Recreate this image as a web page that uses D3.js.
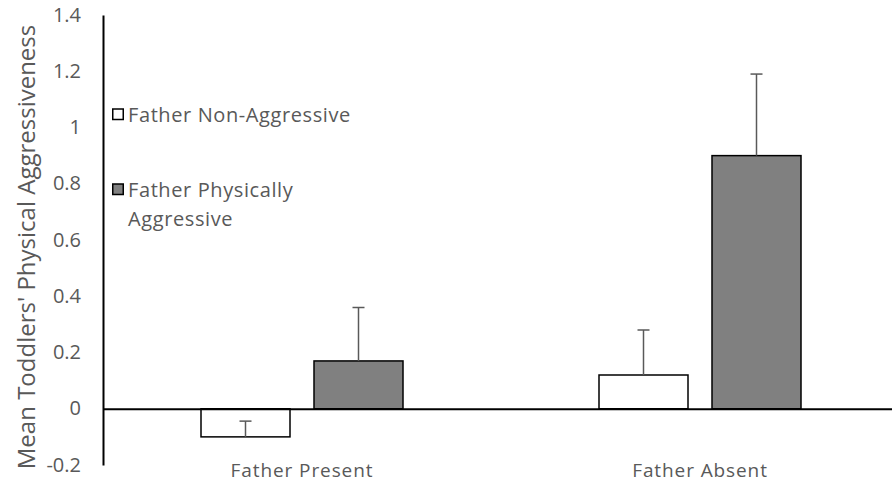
<!DOCTYPE html>
<html>
<head>
<meta charset="utf-8">
<script src="https://cdn.jsdelivr.net/npm/d3@7"></script>
<style>
  html, body { margin: 0; padding: 0; background: #fff; }
  svg { display: block; }
  text { font-family: "Open Sans", "Noto Sans", sans-serif; fill: #595959; }
</style>
</head>
<body>
<svg id="chart" width="892" height="485"></svg>
<script>
// Mean toddlers' physical aggressiveness by father presence and father aggression
const categories = ["Father Present", "Father Absent"];
const seriesNames = ["Father Non-Aggressive", "Father Physically Aggressive"];
const nonAggressive = [-0.10, 0.12];
const nonAggressiveErr = [0.056, 0.16];
const physicallyAggressive = [0.17, 0.90];
const physicallyAggressiveErr = [0.19, 0.29];
const yTicks = [-0.2, 0, 0.2, 0.4, 0.6, 0.8, 1, 1.2, 1.4];
const seriesFill = ["#ffffff", "#808080"];

const series = [
  { name: seriesNames[0], values: nonAggressive, errs: nonAggressiveErr, fill: seriesFill[0] },
  { name: seriesNames[1], values: physicallyAggressive, errs: physicallyAggressiveErr, fill: seriesFill[1] }
];

const svg = d3.select("#chart");
const plotLeft = 103, plotRight = 899, plotTop = 15, plotBottom = 465;

const y = d3.scaleLinear().domain([-0.2, 1.4]).range([plotBottom, plotTop]);
const x0 = d3.scaleBand().domain(categories).range([plotLeft, plotRight]);
const barW = 89, gap = 24;
const groupW = barW * 2 + gap;
const x1 = d3.scaleBand().domain(seriesNames).range([0, groupW])
  .paddingInner(gap / (barW + gap)).paddingOuter(0);

// Y axis
const yAxis = d3.axisLeft(y).tickValues(yTicks).tickSize(0).tickPadding(22)
  .tickFormat(d => String(+d.toFixed(1)));
const gy = svg.append("g").attr("transform", `translate(${plotLeft},0)`).call(yAxis);
gy.select(".domain").attr("stroke", "#000").attr("stroke-width", 2);
gy.selectAll("text")
  .style("font-family", "'Open Sans', sans-serif")
  .style("font-size", "20px")
  .attr("dy", "0.3em")
  .attr("fill", "#595959");

// Bars
const groups = svg.append("g").selectAll("g")
  .data(categories)
  .join("g")
  .attr("transform", d => `translate(${x0(d) + (x0.bandwidth() - groupW) / 2},0)`);

series.forEach(s => {
  groups.append("rect")
    .attr("x", x1(s.name))
    .attr("width", x1.bandwidth())
    .attr("y", (d, i) => Math.min(y(s.values[i]), y(0)))
    .attr("height", (d, i) => Math.abs(y(s.values[i]) - y(0)))
    .attr("fill", s.fill)
    .attr("stroke", "#000")
    .attr("stroke-width", 1.5);

  // Error bars extend upward from the bar end
  const cx = x1(s.name) + x1.bandwidth() / 2;
  groups.append("line")
    .attr("x1", cx).attr("x2", cx)
    .attr("y1", (d, i) => y(s.values[i]))
    .attr("y2", (d, i) => y(s.values[i] + s.errs[i]))
    .attr("stroke", "#595959").attr("stroke-width", 1.5);
  groups.append("line")
    .attr("x1", cx - 6).attr("x2", cx + 6)
    .attr("y1", (d, i) => y(s.values[i] + s.errs[i]))
    .attr("y2", (d, i) => y(s.values[i] + s.errs[i]))
    .attr("stroke", "#595959").attr("stroke-width", 1.5);
});

// Zero line (category axis)
const xAxis = d3.axisBottom(x0).tickSize(0).tickPadding(0);
const gx = svg.append("g").attr("transform", `translate(0,${y(0)})`).call(xAxis);
gx.select(".domain").attr("stroke", "#000").attr("stroke-width", 2);
gx.selectAll("text")
  .attr("y", 477 - y(0))
  .attr("dy", 0)
  .style("font-family", "'Open Sans', sans-serif")
  .style("font-size", "19px")
  .style("letter-spacing", "0.9px")
  .attr("fill", "#595959");

// Y axis title
svg.append("text")
  .attr("transform", `translate(35,247) rotate(-90)`)
  .attr("text-anchor", "middle")
  .style("font-size", "24px")
  .text("Mean Toddlers' Physical Aggressiveness");

// Legend
const legend = svg.append("g").attr("transform", "translate(112,0)");
const legendRows = [
  { lines: ["Father Non-Aggressive"], y: 114.5, fill: seriesFill[0] },
  { lines: ["Father Physically", "Aggressive"], y: 189.5, fill: seriesFill[1] }
];
legendRows.forEach(r => {
  legend.append("rect")
    .attr("x", 0.75).attr("y", r.y - 5.5)
    .attr("width", 10.5).attr("height", 10.5)
    .attr("fill", r.fill).attr("stroke", "#000").attr("stroke-width", 1.5);
  r.lines.forEach((t, k) => {
    legend.append("text")
      .attr("x", 16).attr("y", r.y + 7 + k * 29)
      .style("font-size", "20px")
      .style("letter-spacing", "0.6px")
      .text(t);
  });
});
</script>
</body>
</html>
